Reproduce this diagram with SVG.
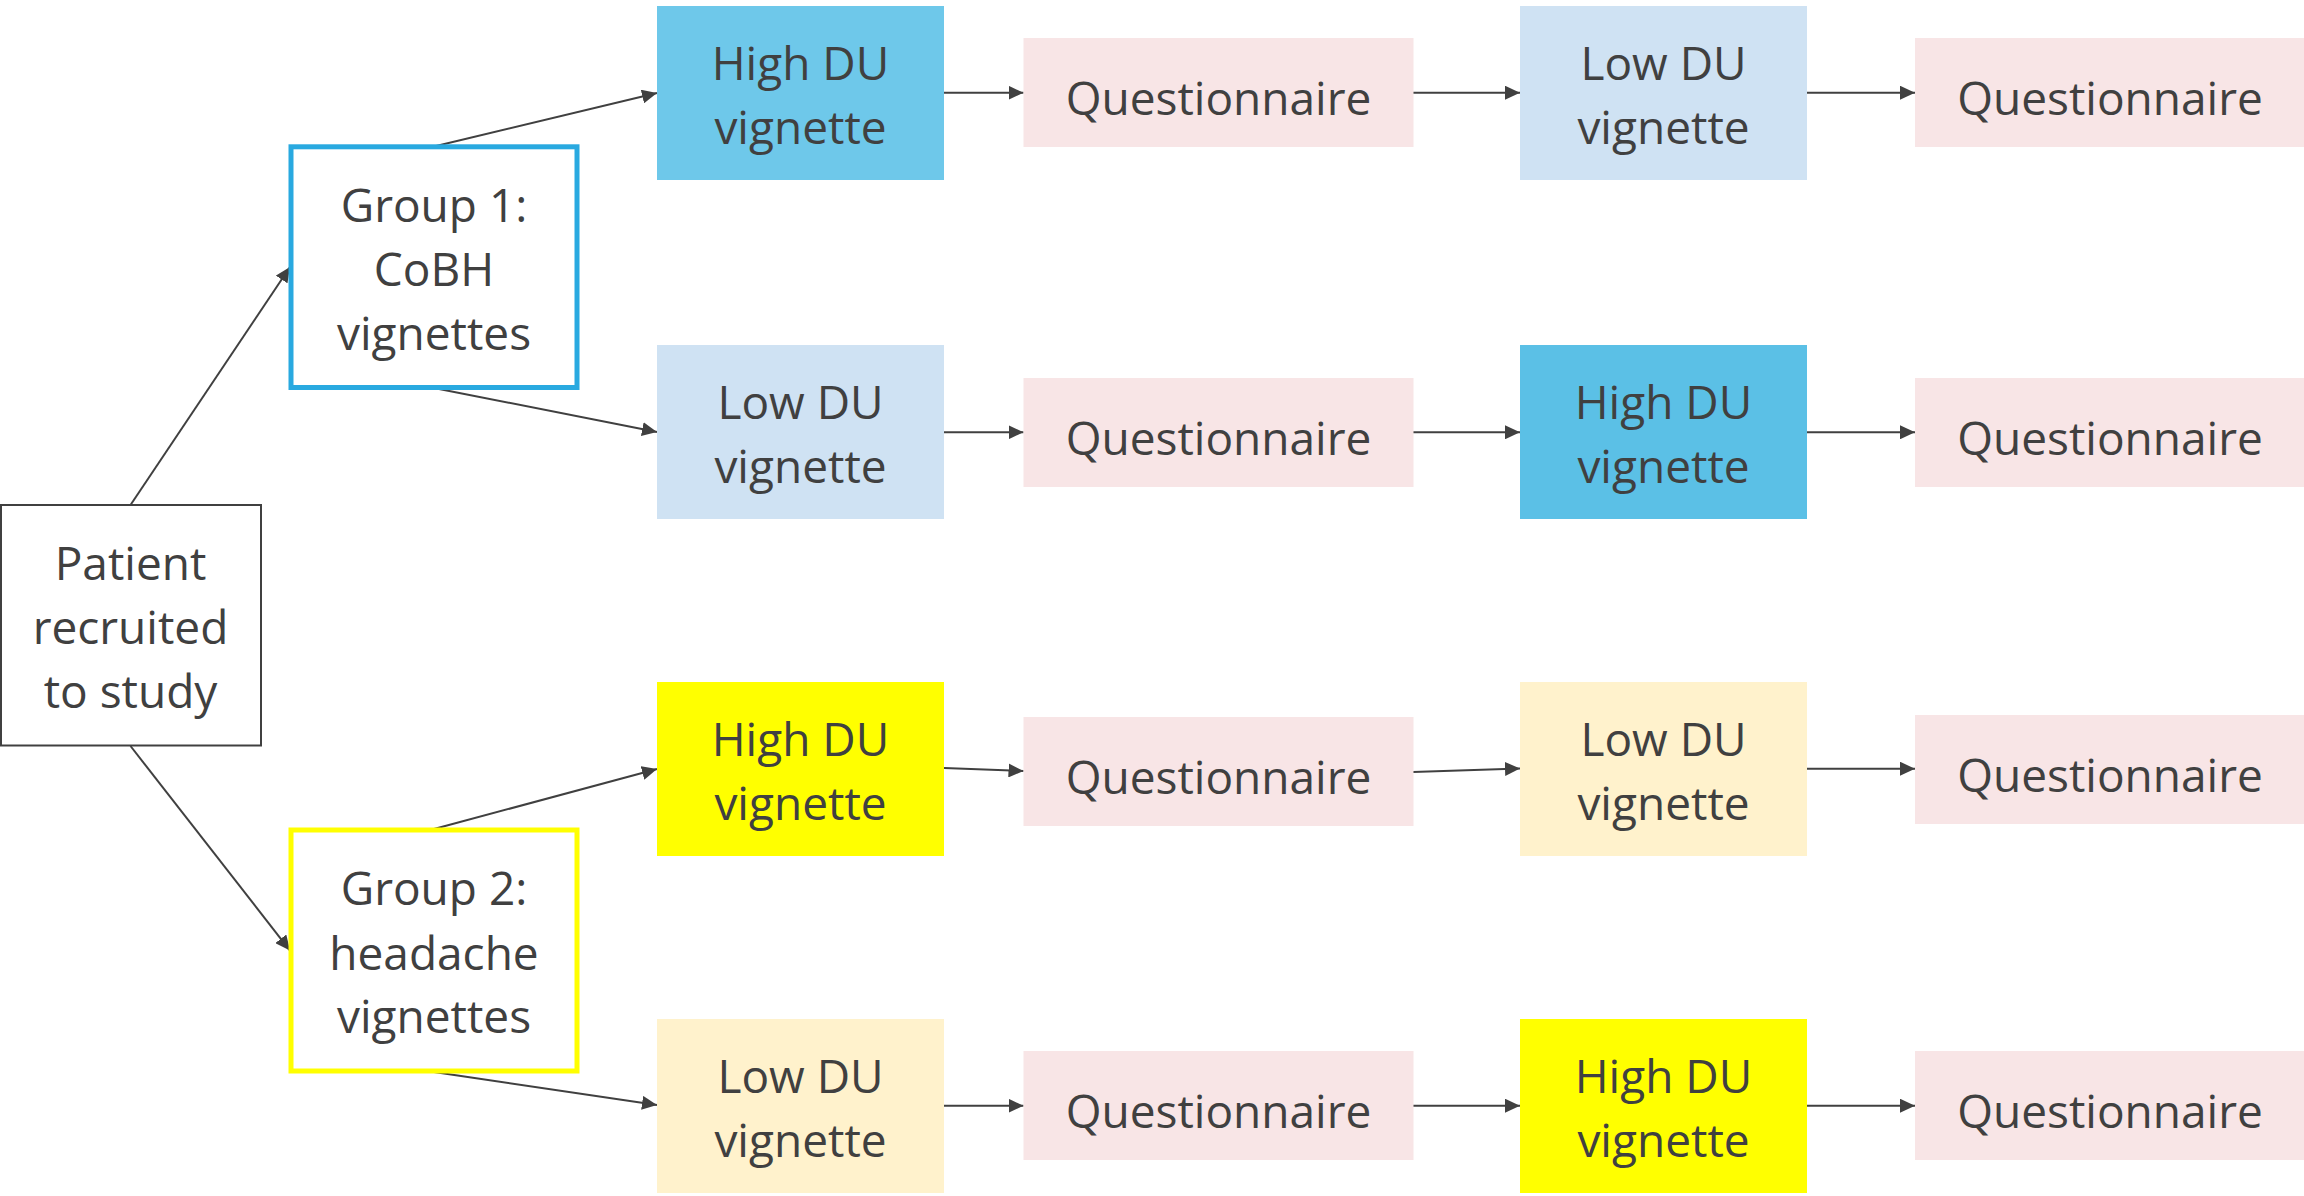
<svg xmlns="http://www.w3.org/2000/svg" width="2304" height="1196" viewBox="0 0 2304 1196">
<style>
text{font-family:"Open Sans","Noto Sans","Liberation Sans",sans-serif;font-size:46px;fill:#404040;text-anchor:middle}
.conn line{stroke:#404040;stroke-width:2;fill:none;marker-end:url(#ah)}
.q{fill:#F8E5E6}
.hb1{fill:#6EC8EA}
.hb2{fill:#5BC0E6}
.lb{fill:#CFE2F3}
.hy{fill:#FFFF00}
.ly{fill:#FFF2CC}
</style>
<defs>
<marker id="ah" markerUnits="userSpaceOnUse" markerWidth="16" markerHeight="14" refX="15" refY="7" orient="auto">
<path d="M0,0 L15,7 L0,14 z" fill="#404040"/>
</marker>
</defs>
<rect width="2304" height="1196" fill="#ffffff"/>

<g class="conn" id="connectors">
<line x1="130.5" y1="505" x2="290" y2="267"/>
<line x1="130.5" y1="746" x2="290" y2="950.6"/>
<line x1="434" y1="146.5" x2="657" y2="93"/>
<line x1="434" y1="388" x2="657" y2="432"/>
<line x1="434" y1="829" x2="657" y2="769"/>
<line x1="434" y1="1072" x2="657" y2="1105"/>
<line x1="944" y1="92.7" x2="1023.5" y2="92.7"/>
<line x1="1413" y1="92.7" x2="1520" y2="92.7"/>
<line x1="1807" y1="92.7" x2="1915" y2="92.7"/>
<line x1="944" y1="432.3" x2="1023.5" y2="432.3"/>
<line x1="1413" y1="432.3" x2="1520" y2="432.3"/>
<line x1="1807" y1="432.3" x2="1915" y2="432.3"/>
<line x1="944" y1="768" x2="1023.5" y2="771"/>
<line x1="1413" y1="772" x2="1520" y2="768.5"/>
<line x1="1807" y1="768.7" x2="1915" y2="768.7"/>
<line x1="944" y1="1105.7" x2="1023.5" y2="1105.7"/>
<line x1="1413" y1="1105.7" x2="1520" y2="1105.7"/>
<line x1="1807" y1="1105.7" x2="1915" y2="1105.7"/>
</g>

<g id="patient">
<rect x="1" y="505" width="260" height="240.5" fill="#ffffff" stroke="#404040" stroke-width="2"/>
<text x="130.5" y="580">Patient</text>
<text x="130.5" y="644">recruited</text>
<text x="130.5" y="708">to study</text>
</g>

<g id="group1">
<rect x="291" y="146.8" width="286" height="240.7" fill="#ffffff" stroke="#29A9E0" stroke-width="5"/>
<text x="434" y="222">Group 1:</text>
<text x="434" y="286">CoBH</text>
<text x="434" y="350">vignettes</text>
</g>

<g id="group2">
<rect x="291" y="830" width="286" height="241" fill="#ffffff" stroke="#FFFF00" stroke-width="5"/>
<text x="434" y="905">Group 2:</text>
<text x="434" y="969.5">headache</text>
<text x="434" y="1033">vignettes</text>
</g>

<!-- Row 1 -->
<g id="r1c1"><rect class="hb1" x="657" y="6" width="287" height="174"/><text x="800.5" y="80">High DU</text><text x="800.5" y="144">vignette</text></g>
<g id="r1c2"><rect class="q" x="1023.5" y="38" width="390" height="109"/><text x="1218.5" y="114.5">Questionnaire</text></g>
<g id="r1c3"><rect class="lb" x="1520" y="6" width="287" height="174"/><text x="1663.5" y="80">Low DU</text><text x="1663.5" y="144">vignette</text></g>
<g id="r1c4"><rect class="q" x="1915" y="38" width="390" height="109"/><text x="2110" y="114.5">Questionnaire</text></g>

<!-- Row 2 -->
<g id="r2c1"><rect class="lb" x="657" y="345" width="287" height="174"/><text x="800.5" y="419">Low DU</text><text x="800.5" y="483">vignette</text></g>
<g id="r2c2"><rect class="q" x="1023.5" y="378" width="390" height="109"/><text x="1218.5" y="454.5">Questionnaire</text></g>
<g id="r2c3"><rect class="hb2" x="1520" y="345" width="287" height="174"/><text x="1663.5" y="419">High DU</text><text x="1663.5" y="483">vignette</text></g>
<g id="r2c4"><rect class="q" x="1915" y="378" width="390" height="109"/><text x="2110" y="454.5">Questionnaire</text></g>

<!-- Row 3 -->
<g id="r3c1"><rect class="hy" x="657" y="682" width="287" height="174"/><text x="800.5" y="756">High DU</text><text x="800.5" y="820">vignette</text></g>
<g id="r3c2"><rect class="q" x="1023.5" y="717" width="390" height="109"/><text x="1218.5" y="793.5">Questionnaire</text></g>
<g id="r3c3"><rect class="ly" x="1520" y="682" width="287" height="174"/><text x="1663.5" y="756">Low DU</text><text x="1663.5" y="820">vignette</text></g>
<g id="r3c4"><rect class="q" x="1915" y="715" width="390" height="109"/><text x="2110" y="791.5">Questionnaire</text></g>

<!-- Row 4 -->
<g id="r4c1"><rect class="ly" x="657" y="1019" width="287" height="174"/><text x="800.5" y="1093">Low DU</text><text x="800.5" y="1157">vignette</text></g>
<g id="r4c2"><rect class="q" x="1023.5" y="1051" width="390" height="109"/><text x="1218.5" y="1127.5">Questionnaire</text></g>
<g id="r4c3"><rect class="hy" x="1520" y="1019" width="287" height="174"/><text x="1663.5" y="1093">High DU</text><text x="1663.5" y="1157">vignette</text></g>
<g id="r4c4"><rect class="q" x="1915" y="1051" width="390" height="109"/><text x="2110" y="1127.5">Questionnaire</text></g>
</svg>
